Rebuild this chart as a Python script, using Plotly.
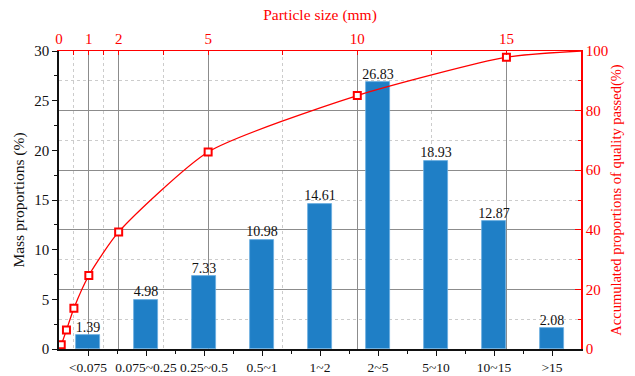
import plotly.graph_objects as go

# Particle size classes and their mass proportions (%)
categories = ["<0.075", "0.075~0.25", "0.25~0.5", "0.5~1", "1~2", "2~5", "5~10", "10~15", ">15"]
mass_pct = [1.39, 4.98, 7.33, 10.98, 14.61, 26.83, 18.93, 12.87, 2.08]

# Grading curve: particle size (mm) vs accumulated passing (%)
sieve_mm = [0.075, 0.25, 0.5, 1, 2, 5, 10, 15]
passed_pct = [1.39, 6.37, 13.70, 24.68, 39.29, 66.12, 85.05, 97.92]
curve_start = (0, 0)
curve_end = (17.5, 100)

size_ticks = [0, 1, 2, 5, 10, 15]
size_minor = [0.5, 1.5, 3.5, 7.5, 12.5]

FONT = "Liberation Serif, Times New Roman, DejaVu Serif, serif"
RED = "#ff0000"
BLUE = "#1f7fc6"
INK = "#111111"

positions = list(range(len(categories)))

fig = go.Figure()

fig.add_trace(go.Bar(
    x=positions,
    y=mass_pct,
    width=0.42,
    marker=dict(color=BLUE, line=dict(color="#6aaee0", width=0.8)),
    xaxis="x", yaxis="y",
    showlegend=False,
    hoverinfo="skip",
))

# value labels above the bars
fig.add_trace(go.Scatter(
    x=positions, y=mass_pct,
    mode="text",
    text=[f"{v:.2f}" for v in mass_pct],
    textposition="top center",
    textfont=dict(family=FONT, size=14, color=INK),
    cliponaxis=False,
    xaxis="x", yaxis="y",
    showlegend=False,
))

# smooth grading line (including the end points) and markers at the sieve sizes
line_x = [curve_start[0]] + sieve_mm + [curve_end[0]]
line_y = [curve_start[1]] + passed_pct + [curve_end[1]]
fig.add_trace(go.Scatter(
    x=line_x, y=line_y,
    mode="lines",
    line=dict(color=RED, width=1.3, shape="spline", smoothing=0.6),
    xaxis="x2", yaxis="y2",
    showlegend=False,
))
fig.add_trace(go.Scatter(
    x=sieve_mm, y=passed_pct,
    mode="markers",
    marker=dict(symbol="square", size=7, color="white", line=dict(color=RED, width=2)),
    xaxis="x2", yaxis="y2",
    showlegend=False,
))

fig.update_layout(
    width=635, height=376,
    margin=dict(l=59, r=54, t=51, b=27),
    paper_bgcolor="white",
    plot_bgcolor="white",
    font=dict(family=FONT, size=13, color=INK),
    bargap=0,
    xaxis=dict(
        range=[-0.5, len(categories) - 0.5],
        tickmode="array",
        tickvals=positions,
        ticktext=categories,
        tickangle=0,
        ticks="outside", ticklen=5, tickwidth=1, tickcolor=INK,
        minor=dict(tickmode="array",
                   tickvals=[p + 0.5 for p in positions[:-1]],
                   ticks="outside", ticklen=3, tickcolor=INK, showgrid=False),
        showline=True, linecolor=INK, linewidth=2,
        showgrid=False, zeroline=False,
        tickfont=dict(family=FONT, size=13.5, color=INK),
        automargin=False,
    ),
    xaxis2=dict(
        overlaying="x", side="top",
        range=[0, 17.5],
        tickmode="array", tickvals=size_ticks,
        ticks="inside", ticklen=4, tickcolor=RED,
        minor=dict(tickmode="array", tickvals=size_minor,
                   ticks="inside", ticklen=4, tickcolor=RED,
                   showgrid=True, gridcolor="#cccccc", griddash="dot", gridwidth=1),
        showline=True, linecolor=RED, linewidth=1.2,
        showgrid=True, gridcolor="#8c8c8c", gridwidth=1,
        zeroline=False,
        tickfont=dict(family=FONT, size=15, color=RED),
        title=dict(text="Particle size (mm)", font=dict(family=FONT, size=15.5, color=RED), standoff=6),
        automargin=False,
    ),
    yaxis=dict(
        range=[0, 30], dtick=5,
        ticks="outside", ticklen=5, tickcolor=INK,
        minor=dict(dtick=2.5, ticks="outside", ticklen=3, tickcolor=INK, showgrid=False),
        showline=True, linecolor=INK, linewidth=1.5,
        showgrid=False, zeroline=False,
        tickfont=dict(family=FONT, size=15, color=INK),
        title=dict(text="Mass proportions (%)", font=dict(family=FONT, size=15.5, color=INK), standoff=6),
        automargin=False,
    ),
    yaxis2=dict(
        overlaying="y", side="right",
        range=[0, 100], dtick=20,
        ticks="inside", ticklen=6, tickcolor=RED,
        minor=dict(dtick=10, ticks="inside", ticklen=3, tickcolor=RED,
                   showgrid=True, gridcolor="#cccccc", griddash="dot", gridwidth=1),
        showline=True, linecolor=RED, linewidth=1.5,
        showgrid=True, gridcolor="#8c8c8c", gridwidth=1,
        zeroline=False,
        tickfont=dict(family=FONT, size=15, color=RED),
        title=dict(text="Accumulated proportions of quality passed(%)",
                   font=dict(family=FONT, size=14.5, color=RED), standoff=4),
        automargin=False,
    ),
)

fig.write_html("out.html")
